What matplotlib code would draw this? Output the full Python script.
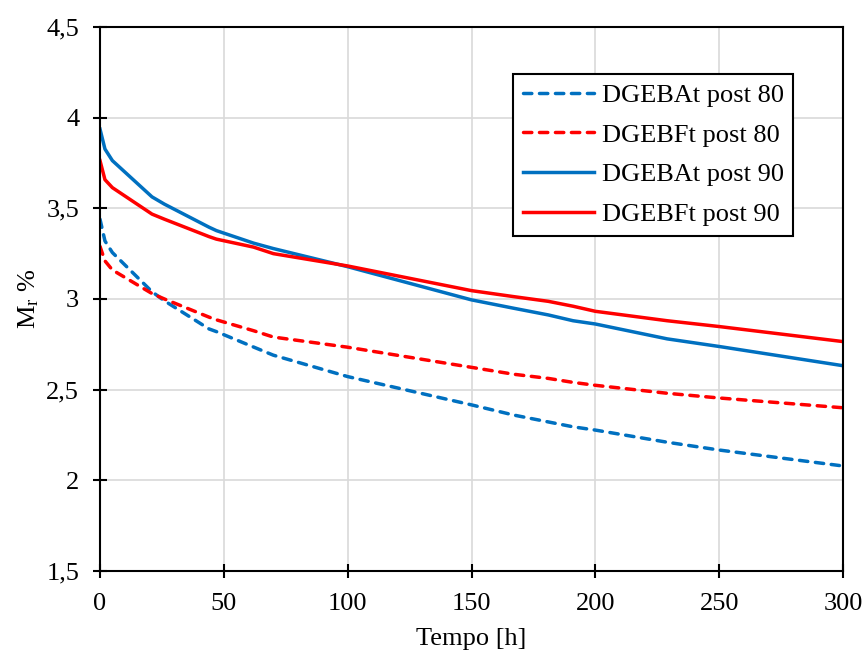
import numpy as np
import matplotlib
matplotlib.use('Agg')
import matplotlib.pyplot as plt

plt.rcParams['font.family'] = 'Liberation Serif'
plt.rcParams['mathtext.fontset'] = 'custom'
plt.rcParams['mathtext.rm'] = 'Liberation Serif'

## data
tempo = [0, 2, 5, 21, 26, 44, 47, 62, 70, 100, 150, 167, 181, 191, 200, 229, 250, 300]
dgeba_80 = [3.44, 3.32, 3.256, 3.04, 2.99, 2.835, 2.82, 2.735, 2.69, 2.572, 2.416, 2.36, 2.322,
            2.295, 2.277, 2.21, 2.167, 2.079]
dgebf_80 = [3.29, 3.21, 3.16, 3.03, 3.0, 2.9, 2.885, 2.825, 2.79, 2.734, 2.623, 2.585, 2.562,
            2.54, 2.524, 2.48, 2.454, 2.40]
dgeba_90 = [3.937, 3.827, 3.763, 3.563, 3.523, 3.396, 3.377, 3.308, 3.278, 3.178, 2.995, 2.949,
            2.912, 2.88, 2.862, 2.78, 2.738, 2.632]
dgebf_90 = [3.763, 3.658, 3.614, 3.468, 3.44, 3.344, 3.33, 3.286, 3.25, 3.182, 3.046, 3.013,
            2.987, 2.96, 2.932, 2.88, 2.848, 2.765]
series_labels = ['DGEBAt post 80', 'DGEBFt post 80', 'DGEBAt post 90', 'DGEBFt post 90']

x_ticks = [0, 50, 100, 150, 200, 250, 300]
y_ticks = [1.5, 2, 2.5, 3, 3.5, 4, 4.5]
y_ticklabels = ['1,5', '2', '2,5', '3', '3,5', '4', '4,5']

blue = '#0070C0'
red = '#FF0000'

fig = plt.figure(figsize=(8.65, 6.53), dpi=100)
ax = fig.add_axes([0.1156, 0.1256, 0.859, 0.8331])

lw = 2.5
dash = (0, (2.4, 2.2))
ax.plot(tempo, dgeba_80, color=blue, lw=lw, linestyle=dash, dash_capstyle='round',
        label=series_labels[0])
ax.plot(tempo, dgebf_80, color=red, lw=lw, linestyle=dash, dash_capstyle='round',
        label=series_labels[1])
ax.plot(tempo, dgeba_90, color=blue, lw=lw, label=series_labels[2])
ax.plot(tempo, dgebf_90, color=red, lw=lw, label=series_labels[3])

ax.set_xlim(0, 300)
ax.set_ylim(1.5, 4.5)
ax.set_xticks(x_ticks)
ax.set_yticks(y_ticks)
ax.set_yticklabels(y_ticklabels)
ax.grid(True, color='#d9d9d9', lw=1.2)
ax.set_axisbelow(True)
for s in ax.spines.values():
    s.set_linewidth(1.5)
    s.set_color('black')

ax.tick_params(axis='x', direction='inout', length=10, width=1.5, pad=11, labelsize=19)
ax.tick_params(axis='y', direction='inout', length=10, width=1.5, pad=10, labelsize=19)

ax.set_xlabel('Tempo [h]', fontsize=19, labelpad=9)
ax.set_ylabel('$\\mathregular{M_r}$ %', fontsize=19, labelpad=4)

leg = ax.legend(loc='upper right', bbox_to_anchor=(0.9327, 0.9134), borderaxespad=0,
                fontsize=19, frameon=True, fancybox=False, framealpha=1, edgecolor='black',
                handlelength=2.7, handletextpad=0.3, labelspacing=0.62, borderpad=0.35)
leg.get_frame().set_linewidth(1.5)

fig.savefig('out.png', dpi=100)
